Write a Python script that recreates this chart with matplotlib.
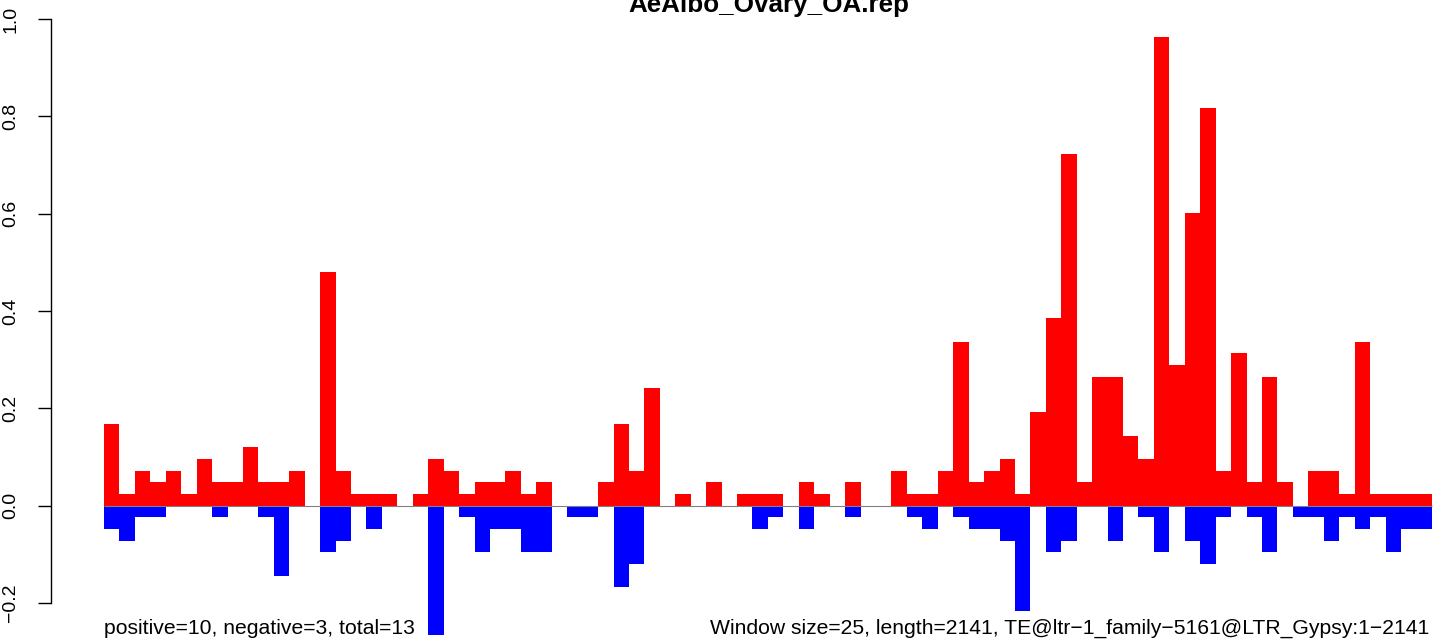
import numpy as np
import matplotlib.pyplot as plt

plt.rcParams['font.family'] = ['Liberation Sans', 'DejaVu Sans']

title = "AeAlbo_Ovary_OA.rep"
note_left = "positive=10, negative=3, total=13"
note_right = "Window size=25, length=2141, TE@ltr\u22121_family\u22125161@LTR_Gypsy:1\u22122141"

# normalised coverage per 25 bp window, sense (positive) and antisense (negative)
positive = [0.168, 0.024, 0.072, 0.048, 0.072, 0.024, 0.096, 0.048, 0.048, 0.120, 0.048, 0.048, 0.072, 0, 0.481,
            0.072, 0.024, 0.024, 0.024, 0, 0.024, 0.096, 0.072, 0.024, 0.048, 0.048, 0.072, 0.024, 0.048, 0,
            0, 0, 0.048, 0.168, 0.072, 0.241, 0, 0.024, 0, 0.048, 0, 0.024, 0.024, 0.024, 0,
            0.048, 0.024, 0, 0.048, 0, 0, 0.072, 0.024, 0.024, 0.072, 0.337, 0.048, 0.072, 0.096, 0.024,
            0.192, 0.385, 0.722, 0.048, 0.265, 0.265, 0.144, 0.096, 0.962, 0.289, 0.602, 0.818, 0.072, 0.313, 0.048,
            0.265, 0.048, 0, 0.072, 0.072, 0.024, 0.337, 0.024, 0.024, 0.024, 0.024]
negative = [-0.048, -0.072, -0.024, -0.024, 0, 0, 0, -0.024, 0, 0, -0.024, -0.144, 0, 0, -0.096,
            -0.072, 0, -0.048, 0, 0, 0, -0.265, 0, -0.024, -0.096, -0.048, -0.048, -0.096, -0.096, 0,
            -0.024, -0.024, 0, -0.168, -0.120, 0, 0, 0, 0, 0, 0, 0, -0.048, -0.024, 0,
            -0.048, 0, 0, -0.024, 0, 0, 0, -0.024, -0.048, 0, -0.024, -0.048, -0.048, -0.072, -0.217,
            0, -0.096, -0.072, 0, 0, -0.072, 0, -0.024, -0.096, 0, -0.072, -0.120, -0.024, 0, -0.024,
            -0.096, 0, -0.024, -0.024, -0.072, -0.024, -0.048, -0.024, -0.096, -0.048, -0.048]
yticks = [-0.2, 0.0, 0.2, 0.4, 0.6, 0.8, 1.0]
ytick_labels = ["\u22120.2", "0.0", "0.2", "0.4", "0.6", "0.8", "1.0"]

W, H = 1436, 641
fig = plt.figure(figsize=(W / 100, H / 100), dpi=100)

# plot region is wider than the picture (the original was cropped on the right)
n = len(positive)
bar_px = 15.44
x0_px, y0_px, unit_px = 104, 505.7, 486.7
left_px, right_px = 51, 1485
ylo, yhi = -0.3, 1.05
xlo = (left_px - x0_px) / bar_px
xhi = (right_px - x0_px) / bar_px
top_px = y0_px - yhi * unit_px
bot_px = y0_px - ylo * unit_px
ax = fig.add_axes([left_px / W, 1 - bot_px / H, (right_px - left_px) / W, (bot_px - top_px) / H])

x = np.arange(n)
ax.bar(x, positive, width=1, align='edge', color='#ff0000', linewidth=0)
ax.bar(x, negative, width=1, align='edge', color='#0000ff', linewidth=0)
ax.hlines(0, 0, n, color='#808080', lw=0.8, zorder=3)

ax.set_xlim(xlo, xhi)
ax.set_ylim(ylo, yhi)
for s in ['top', 'right', 'bottom']:
    ax.spines[s].set_visible(False)
ax.spines['left'].set_bounds(-0.2, 1.0)
ax.spines['left'].set_linewidth(1.0)
ax.set_xticks([])
ax.set_yticks(yticks)
ax.set_yticklabels(ytick_labels, rotation=90, va='center', ha='right', fontsize=14)
ax.tick_params(axis='y', length=9.4, width=1.0, pad=13.5)

# title is cut off at the top edge, as in the original
fig.text(768.5 / W, 1 - 12 / H, title, ha='center', va='baseline', fontsize=18.7, fontweight='bold')
fig.text(104 / W, 1 - 634 / H, note_left, ha='left', va='baseline', fontsize=15.2)
fig.text(1429 / W, 1 - 634 / H, note_right, ha='right', va='baseline', fontsize=15.2)

fig.savefig('out.png', dpi=100)
